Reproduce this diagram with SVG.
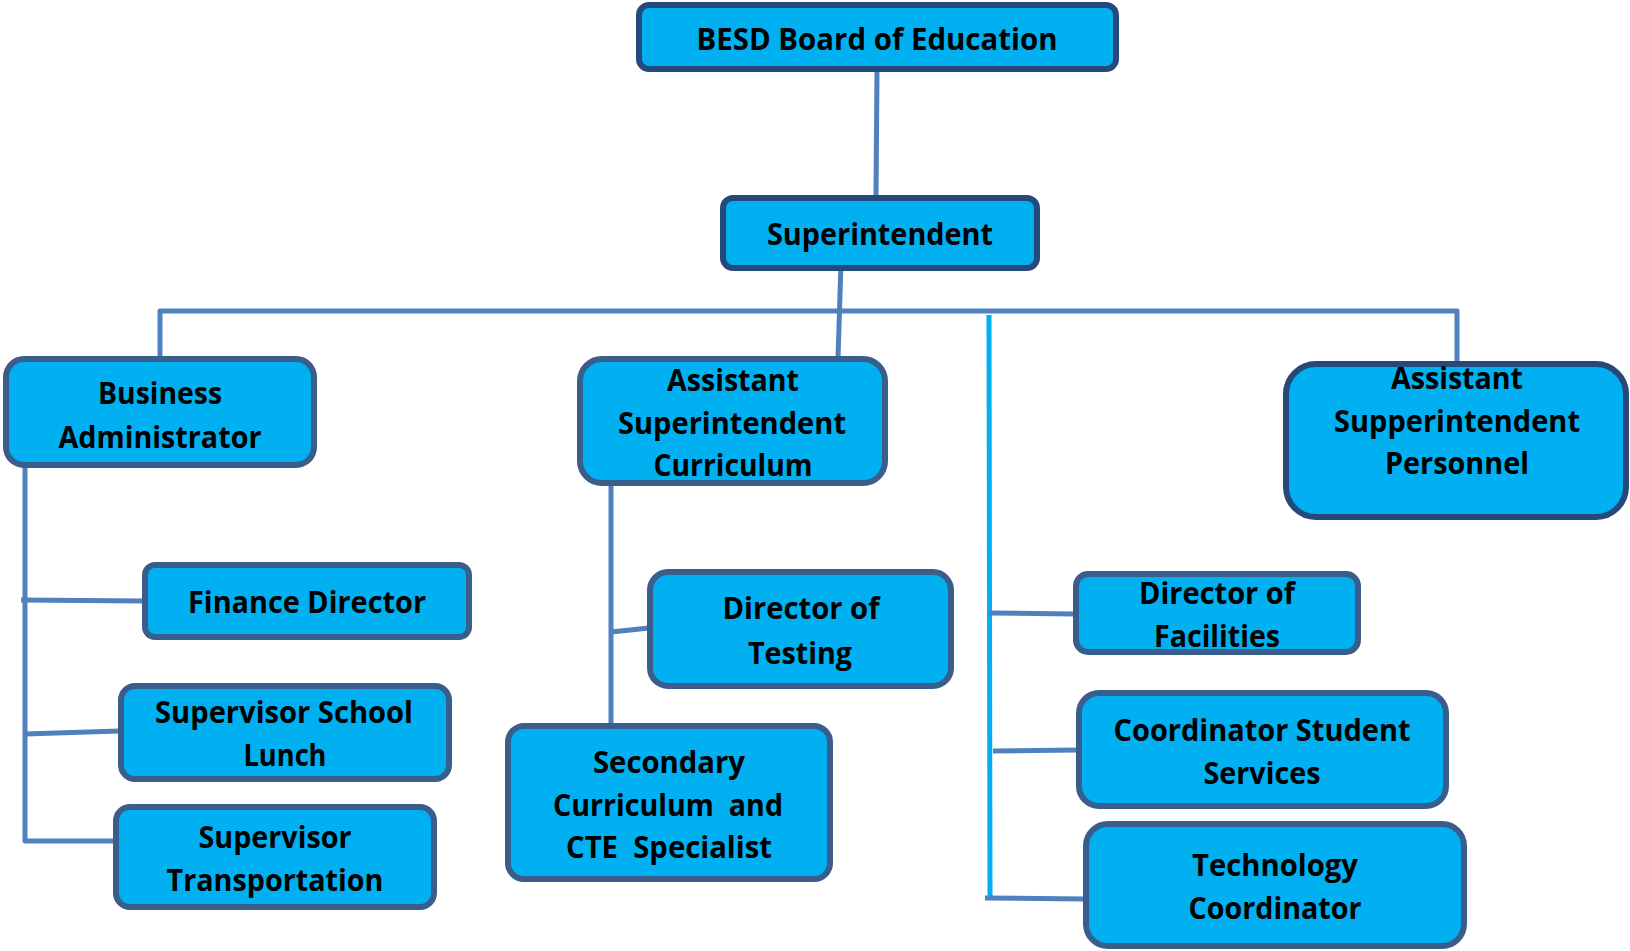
<svg xmlns="http://www.w3.org/2000/svg" width="1630" height="951" viewBox="0 0 1630 951">
  <style>
    .box { fill: #00B0F0; stroke: #3A5E8C; stroke-width: 6; }
    .box.dark { stroke: #24497A; }
    .lbl { font-family: "Open Sans", "Liberation Sans", sans-serif; font-weight: 700; font-size: 31px; fill: #000; text-anchor: middle; }
    .link { fill: none; stroke: #4F81BD; stroke-width: 5; stroke-linejoin: round; }
    .rail { fill: none; stroke: #00B0F0; stroke-width: 5; }
  </style>
  <rect width="1630" height="951" fill="#FFFFFF"/>

  <!-- connectors -->
  <g id="connectors">
    <path class="link" d="M877,70 L876,196"/>
    <path class="link" stroke-width="6" d="M160,358 L160,311 L1457,311 L1457,362"/>
    <path class="link" d="M841,262 L838,359"/>
    <path class="link" d="M25,466 L25,841 L114,841"/>
    <path class="link" d="M21,600 L143,601"/>
    <path class="link" d="M25,734 L119,731"/>
    <path class="link" d="M611,484 L611,725"/>
    <path class="link" d="M611,632 L649,628"/>
    <path class="rail" d="M989,315 L990,897"/>
    <path class="link" d="M989,613 L1074,614"/>
    <path class="link" d="M993,751 L1077,750"/>
    <path class="link" d="M985,898 L1085,899"/>
  </g>

  <g id="board">
    <rect class="box dark" x="639" y="5" width="477" height="64" rx="10"/>
    <text class="lbl" x="877" y="50" textLength="361" lengthAdjust="spacingAndGlyphs">BESD Board of Education</text>
  </g>

  <g id="superintendent">
    <rect class="box dark" x="723" y="198" width="314" height="70" rx="10"/>
    <text class="lbl" x="880" y="245" textLength="226" lengthAdjust="spacingAndGlyphs">Superintendent</text>
  </g>

  <g id="business-administrator">
    <rect class="box" x="6" y="359" width="308" height="106" rx="18"/>
    <text class="lbl" x="160" y="404" textLength="124" lengthAdjust="spacingAndGlyphs">Business</text>
    <text class="lbl" x="160" y="448" textLength="203" lengthAdjust="spacingAndGlyphs">Administrator</text>
  </g>

  <g id="asst-superintendent-curriculum">
    <rect class="box" x="580" y="359" width="305" height="124" rx="22"/>
    <text class="lbl" x="733" y="391" textLength="132" lengthAdjust="spacingAndGlyphs">Assistant</text>
    <text class="lbl" x="732" y="434" textLength="228" lengthAdjust="spacingAndGlyphs">Superintendent</text>
    <text class="lbl" x="733" y="476" textLength="159" lengthAdjust="spacingAndGlyphs">Curriculum</text>
  </g>

  <g id="asst-superintendent-personnel">
    <rect class="box dark" x="1286" y="364" width="340" height="153" rx="30" stroke-width="7"/>
    <text class="lbl" x="1457" y="389" textLength="132" lengthAdjust="spacingAndGlyphs">Assistant</text>
    <text class="lbl" x="1457" y="432" textLength="246" lengthAdjust="spacingAndGlyphs">Supperintendent</text>
    <text class="lbl" x="1457" y="474" textLength="144" lengthAdjust="spacingAndGlyphs">Personnel</text>
  </g>

  <g id="finance-director">
    <rect class="box" x="145" y="565" width="324" height="72" rx="10"/>
    <text class="lbl" x="307" y="613" textLength="238" lengthAdjust="spacingAndGlyphs">Finance Director</text>
  </g>

  <g id="supervisor-school-lunch">
    <rect class="box" x="121" y="686" width="328" height="93" rx="14"/>
    <text class="lbl" x="284" y="723" textLength="258" lengthAdjust="spacingAndGlyphs">Supervisor School</text>
    <text class="lbl" x="285" y="766" textLength="83" lengthAdjust="spacingAndGlyphs">Lunch</text>
  </g>

  <g id="supervisor-transportation">
    <rect class="box" x="116" y="807" width="318" height="100" rx="14"/>
    <text class="lbl" x="275" y="848" textLength="153" lengthAdjust="spacingAndGlyphs">Supervisor</text>
    <text class="lbl" x="275" y="891" textLength="217" lengthAdjust="spacingAndGlyphs">Transportation</text>
  </g>

  <g id="director-of-testing">
    <rect class="box" x="650" y="572" width="301" height="114" rx="18"/>
    <text class="lbl" x="801" y="619" textLength="157" lengthAdjust="spacingAndGlyphs">Director of</text>
    <text class="lbl" x="800" y="664" textLength="104" lengthAdjust="spacingAndGlyphs">Testing</text>
  </g>

  <g id="secondary-curriculum-cte">
    <rect class="box" x="508" y="726" width="322" height="153" rx="16"/>
    <text class="lbl" x="669" y="773" textLength="152" lengthAdjust="spacingAndGlyphs">Secondary</text>
    <text class="lbl" x="668" y="816" textLength="230" lengthAdjust="spacingAndGlyphs" xml:space="preserve">Curriculum  and</text>
    <text class="lbl" x="669" y="858" textLength="206" lengthAdjust="spacingAndGlyphs" xml:space="preserve">CTE  Specialist</text>
  </g>

  <g id="director-of-facilities">
    <rect class="box" x="1076" y="574" width="282" height="78" rx="12"/>
    <text class="lbl" x="1217" y="604" textLength="156" lengthAdjust="spacingAndGlyphs">Director of</text>
    <text class="lbl" x="1217" y="647" textLength="126" lengthAdjust="spacingAndGlyphs">Facilities</text>
  </g>

  <g id="coordinator-student-services">
    <rect class="box" x="1079" y="693" width="367" height="113" rx="20"/>
    <text class="lbl" x="1262" y="741" textLength="297" lengthAdjust="spacingAndGlyphs">Coordinator Student</text>
    <text class="lbl" x="1262" y="784" textLength="117" lengthAdjust="spacingAndGlyphs">Services</text>
  </g>

  <g id="technology-coordinator">
    <rect class="box" x="1086" y="824" width="378" height="122" rx="22"/>
    <text class="lbl" x="1275" y="876" textLength="166" lengthAdjust="spacingAndGlyphs">Technology</text>
    <text class="lbl" x="1275" y="919" textLength="173" lengthAdjust="spacingAndGlyphs">Coordinator</text>
  </g>
</svg>
